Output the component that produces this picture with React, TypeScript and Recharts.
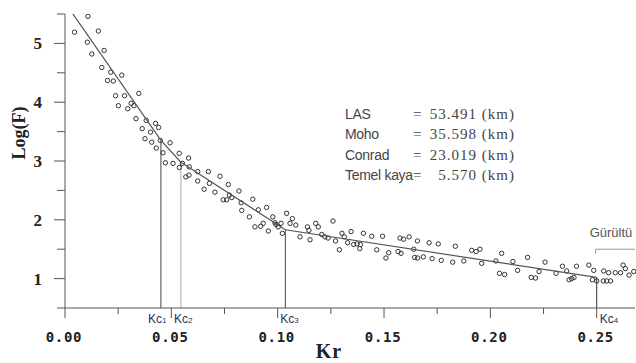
import { ScatterChart, Scatter, XAxis, YAxis, ReferenceLine } from "recharts";

// observed spectrum: [Kr, Log(F)]
const spectrum: [number, number][] = [
  [0.0045, 5.19], [0.0108, 5.46], [0.0157, 5.21], [0.0105, 5.02], [0.0184, 4.88],
  [0.0126, 4.82], [0.0173, 4.59], [0.0215, 4.51], [0.0267, 4.46], [0.02, 4.37],
  [0.0227, 4.36], [0.0347, 4.15], [0.0238, 4.11], [0.028, 4.11], [0.0311, 3.98],
  [0.0324, 3.94], [0.0251, 3.94], [0.0295, 3.89], [0.0334, 3.72], [0.0382, 3.69],
  [0.0426, 3.64], [0.044, 3.57], [0.0363, 3.55], [0.0402, 3.49], [0.0376, 3.38],
  [0.0408, 3.32], [0.0448, 3.35], [0.0494, 3.31], [0.0429, 3.22], [0.0461, 3.14],
  [0.0537, 3.13], [0.0581, 3.05], [0.0472, 2.97], [0.0508, 2.96], [0.0552, 2.96],
  [0.0538, 2.89], [0.0584, 2.9], [0.0568, 2.73], [0.0583, 2.76], [0.0624, 2.82],
  [0.0624, 2.66], [0.0674, 2.82], [0.0729, 2.74], [0.0679, 2.62], [0.0768, 2.6],
  [0.0654, 2.52], [0.0705, 2.47], [0.0818, 2.49], [0.0773, 2.42], [0.0744, 2.34],
  [0.076, 2.34], [0.0784, 2.38], [0.0828, 2.29], [0.0883, 2.35], [0.0831, 2.16],
  [0.0909, 2.17], [0.0948, 2.21], [0.0867, 2.05], [0.0977, 2.05], [0.0932, 1.94],
  [0.0893, 1.88], [0.092, 1.89], [0.0992, 1.92], [0.1003, 1.88], [0.0956, 1.81],
  [0.0987, 1.95], [0.1016, 1.94], [0.1042, 2.11], [0.1069, 2.02], [0.1058, 1.94],
  [0.1085, 1.91], [0.1022, 1.77], [0.1105, 1.71], [0.114, 1.88], [0.1147, 1.82],
  [0.1152, 1.66], [0.1179, 1.94], [0.1191, 1.88], [0.126, 1.98], [0.1207, 1.75],
  [0.1222, 1.71], [0.1237, 1.69], [0.1272, 1.64], [0.129, 1.49], [0.1302, 1.77],
  [0.1313, 1.71], [0.1345, 1.8], [0.1329, 1.61], [0.1357, 1.58], [0.1373, 1.59],
  [0.1389, 1.58], [0.1386, 1.51], [0.1403, 1.77], [0.1442, 1.72], [0.1493, 1.72],
  [0.1466, 1.49], [0.1522, 1.44], [0.1509, 1.35], [0.1566, 1.46], [0.158, 1.43],
  [0.1575, 1.69], [0.1592, 1.67], [0.1618, 1.71], [0.164, 1.5], [0.1657, 1.64],
  [0.1644, 1.36], [0.1658, 1.35], [0.1685, 1.37], [0.1712, 1.61], [0.1755, 1.59],
  [0.1726, 1.34], [0.1769, 1.31], [0.1823, 1.28], [0.1835, 1.55], [0.1875, 1.3],
  [0.1912, 1.48], [0.1933, 1.46], [0.1951, 1.5], [0.1959, 1.26], [0.2026, 1.3],
  [0.2053, 1.43], [0.2043, 1.09], [0.2067, 1.07], [0.2106, 1.29], [0.2128, 1.14],
  [0.2175, 1.36], [0.2192, 1.02], [0.2212, 1.01], [0.2229, 1.12], [0.2257, 1.28],
  [0.2309, 1.09], [0.2339, 1.21], [0.2359, 1.13], [0.237, 0.98], [0.2382, 1.0],
  [0.2393, 1.02], [0.2405, 1.21], [0.2463, 1.23], [0.2486, 1.14], [0.248, 0.98],
  [0.25, 0.96], [0.2533, 1.13], [0.2556, 1.1], [0.2531, 0.96], [0.2547, 0.96],
  [0.2565, 0.96], [0.2587, 1.1], [0.2612, 1.1], [0.2624, 1.23], [0.2635, 1.17],
  [0.2652, 1.06], [0.2674, 1.12],
];

// fitted segments
const fitKr = [0.002, 0.0451, 0.0545, 0.1036, 0.25];
const fitLogF = [5.59, 3.35, 2.98, 1.83, 1.02];

// cut-off wavenumbers
const kcIndex = ["1", "2", "3", "4"];
const kcKr = [0.0451, 0.0545, 0.1036, 0.25];
const kcLogF = [3.35, 2.98, 1.83, 1.02];

// noise bracket
const noiseKr = [0.2495, 0.268];
const noiseLogF = [1.5, 1.42];

const depthNames = ["LAS", "Moho", "Conrad", "Temel kaya"];
const depthValues = ["53.491", "35.598", "23.019", "5.570"];

const xTicks = [0, 0.025, 0.05, 0.075, 0.1, 0.125, 0.15, 0.175, 0.2, 0.225, 0.25];
const yTicks = [0.5, 1, 1.5, 2, 2.5, 3, 3.5, 4, 4.5, 5, 5.5];

const axisColor = "#555";
const kcLabelDx = [-13, -7, -5, 3];
const kcColors = ["#444", "#aaa", "#444", "#333"];

const points = spectrum.map(([kr, logF]) => ({ kr, logF }));
const fitData = fitKr.map((kr, i) => ({ kr, logF: fitLogF[i] }));

function XTick({ x, y, payload }: any) {
  const v = payload.value as number;
  const major = Math.abs(v / 0.05 - Math.round(v / 0.05)) < 1e-6;
  return (
    <g>
      <line x1={x} x2={x} y1={y} y2={y + (major ? 10 : 6)} stroke={axisColor} />
      {major && (
        <text
          x={x - 1}
          y={y + 34}
          textAnchor="middle"
          fontFamily="DejaVu Sans Mono"
          fontWeight="bold"
          fontSize={14}
          letterSpacing={0.7}
          fill="#222"
        >
          {v.toFixed(2)}
        </text>
      )}
    </g>
  );
}

function YTick({ x, y, payload }: any) {
  const v = payload.value as number;
  const major = Number.isInteger(v);
  return (
    <g>
      <line x1={x - (major ? 11 : 8)} x2={x} y1={y} y2={y} stroke={axisColor} />
      {major && (
        <text
          x={x - 23}
          y={y + 6}
          textAnchor="end"
          fontFamily="Liberation Serif"
          fontWeight="bold"
          fontSize={17}
          fill="#222"
        >
          {v}
        </text>
      )}
    </g>
  );
}

function KcLabel({ viewBox, n, dx }: any) {
  const { x, y, height } = viewBox;
  return (
    <text x={x + dx} y={y + height + 15} fontFamily="Liberation Sans" fontSize={12} fill="#22305e">
      Kc<tspan fontSize={8}>{n}</tspan>
    </text>
  );
}

function NoiseLabel({ viewBox }: any) {
  return (
    <text x={viewBox.x - 6} y={viewBox.y - 12} fontFamily="Liberation Sans" fontSize={13} fill="#555">
      Gürültü
    </text>
  );
}

const OpenDot = (props: any) => (
  <circle cx={props.cx} cy={props.cy} r={2.2} fill="none" stroke="#333" strokeWidth={1} />
);

export default function App() {
  return (
    <div style={{ position: "absolute", left: 0, top: 0, width: 636, height: 363, background: "#fff" }}>
      <ScatterChart width={636} height={363} margin={{ top: 14, right: 1, bottom: 0, left: 0 }}>
        <XAxis
          type="number"
          dataKey="kr"
          domain={[0, 0.268]}
          ticks={xTicks}
          interval={0}
          height={55}
          tickSize={0}
          tickMargin={0}
          tickLine={false}
          axisLine={{ stroke: axisColor }}
          tick={<XTick />}
        />
        <YAxis
          type="number"
          dataKey="logF"
          domain={[0.5, 5.5]}
          allowDataOverflow
          ticks={yTicks}
          interval={0}
          width={65}
          tickSize={0}
          tickMargin={0}
          tickLine={false}
          axisLine={{ stroke: axisColor }}
          tick={<YTick />}
        />
        {kcKr.map((kr, i) => (
          <ReferenceLine
            key={`kc-${i}`}
            segment={[{ x: kr, y: 0.5 }, { x: kr, y: kcLogF[i] }]}
            stroke={kcColors[i]}
            strokeWidth={1}
            label={<KcLabel n={kcIndex[i]} dx={kcLabelDx[i]} />}
          />
        ))}
        <ReferenceLine
          segment={[{ x: noiseKr[0], y: noiseLogF[0] }, { x: noiseKr[1], y: noiseLogF[0] }]}
          stroke="#999"
          label={<NoiseLabel />}
        />
        <ReferenceLine
          segment={[{ x: noiseKr[0], y: noiseLogF[0] }, { x: noiseKr[0], y: noiseLogF[1] }]}
          stroke="#999"
        />
        <Scatter data={points} shape={OpenDot} isAnimationActive={false} />
        <Scatter
          data={fitData}
          line={{ stroke: "#555", strokeWidth: 1.2 }}
          shape={() => <g />}
          isAnimationActive={false}
        />
      </ScatterChart>
      <svg
        width={636}
        height={363}
        style={{ position: "absolute", left: 0, top: 0, pointerEvents: "none" }}
      >
        <text
          transform="translate(25,133) rotate(-90)"
          textAnchor="middle"
          fontFamily="Liberation Serif"
          fontWeight="bold"
          fontSize={18}
          fill="#222"
        >
          Log(F)
        </text>
        <text
          x={329}
          y={358}
          textAnchor="middle"
          fontFamily="Liberation Serif"
          fontWeight="bold"
          fontSize={20}
          letterSpacing={1}
          fill="#222"
        >
          Kr
        </text>
        {depthNames.map((name, i) => (
          <g key={name}>
            <text x={345} y={119 + i * 20.3} fontFamily="Liberation Sans" fontSize={14} letterSpacing={-0.3} fill="#444">
              {name}
            </text>
            <text x={413} y={119 + i * 20.3} fontFamily="Liberation Serif" fontSize={15} fill="#444">
              =
            </text>
            <text x={515} y={119 + i * 20.3} textAnchor="end" fontFamily="Liberation Serif" fontSize={15} letterSpacing={1} fill="#444">
              {depthValues[i]} (km)
            </text>
          </g>
        ))}
      </svg>
    </div>
  );
}
